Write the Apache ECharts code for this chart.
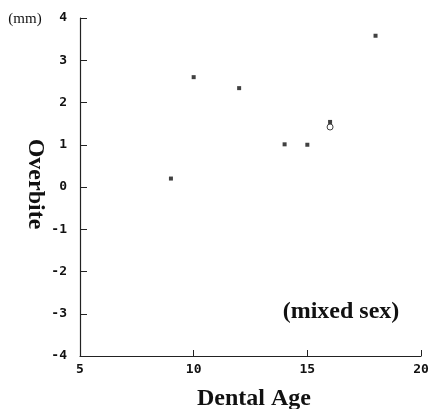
<!DOCTYPE html>
<html><head><meta charset="utf-8">
<script src="https://cdn.jsdelivr.net/npm/echarts@6/dist/echarts.min.js"></script>
<style>html,body{margin:0;padding:0;background:#fff}#c{width:433px;height:409px}</style>
</head><body><div id="c"></div>
<script>
const dentalAge = [9, 10, 12, 14, 15, 16, 18];
const overbite = [0.2, 2.6, 2.34, 1.01, 1.0, 1.54, 3.58];
const openAge = [16];
const openOverbite = [1.42];
const xTicks = [5, 10, 15, 20];
const yTicks = [-4, -3, -2, -1, 0, 1, 2, 3, 4];

const chart = echarts.init(document.getElementById('c'));
const mono = {fontFamily: 'DejaVu Sans Mono', fontSize: 13, color: '#111', fontWeight: 'bold'};
chart.setOption({
  animation: false,
  backgroundColor: '#fff',
  grid: {left: 80, right: 12, top: 18, bottom: 53},
  xAxis: {
    type: 'value', min: xTicks[0], max: xTicks[xTicks.length-1], interval: 5,
    splitLine: {show: false},
    axisLine: {onZero: false, lineStyle: {color: '#222', width: 1.2}},
    axisTick: {inside: true, length: 6, lineStyle: {color: '#222'}},
    axisLabel: Object.assign({margin: 7}, mono)
  },
  yAxis: {
    type: 'value', min: yTicks[0], max: yTicks[yTicks.length-1], interval: 1,
    splitLine: {show: false},
    axisLine: {show: true, onZero: false, lineStyle: {color: '#222', width: 1.2}},
    axisTick: {show: true, inside: true, length: 7, lineStyle: {color: '#222'}},
    axisLabel: Object.assign({margin: 13}, mono)
  },
  series: [
    {type: 'scatter', symbol: 'rect', symbolSize: 4, itemStyle: {color: '#111'},
     data: dentalAge.map((a, i) => [a, overbite[i]])},
    {type: 'scatter', symbol: 'circle', symbolSize: 6, z: 3,
     itemStyle: {color: '#fff', borderColor: '#111', borderWidth: 1},
     data: openAge.map((a, i) => [a, openOverbite[i]])}
  ],
  graphic: [
    {type: 'text', x: 25, y: 19,
     style: {text: '(mm)', font: '15px "Liberation Serif"', fill: '#111', align: 'center', verticalAlign: 'middle'}},
    {type: 'text', x: 35, y: 184, rotation: -Math.PI/2,
     style: {text: 'Overbite', font: 'bold 24px "Liberation Serif"', fill: '#111', align: 'center', verticalAlign: 'middle'}},
    {type: 'text', x: 254, y: 399,
     style: {text: 'Dental Age', font: 'bold 24px "Liberation Serif"', fill: '#111', align: 'center', verticalAlign: 'middle'}},
    {type: 'text', x: 341, y: 312,
     style: {text: '(mixed sex)', font: 'bold 24px "Liberation Serif"', fill: '#111', align: 'center', verticalAlign: 'middle'}}
  ]
});
</script></body></html>
